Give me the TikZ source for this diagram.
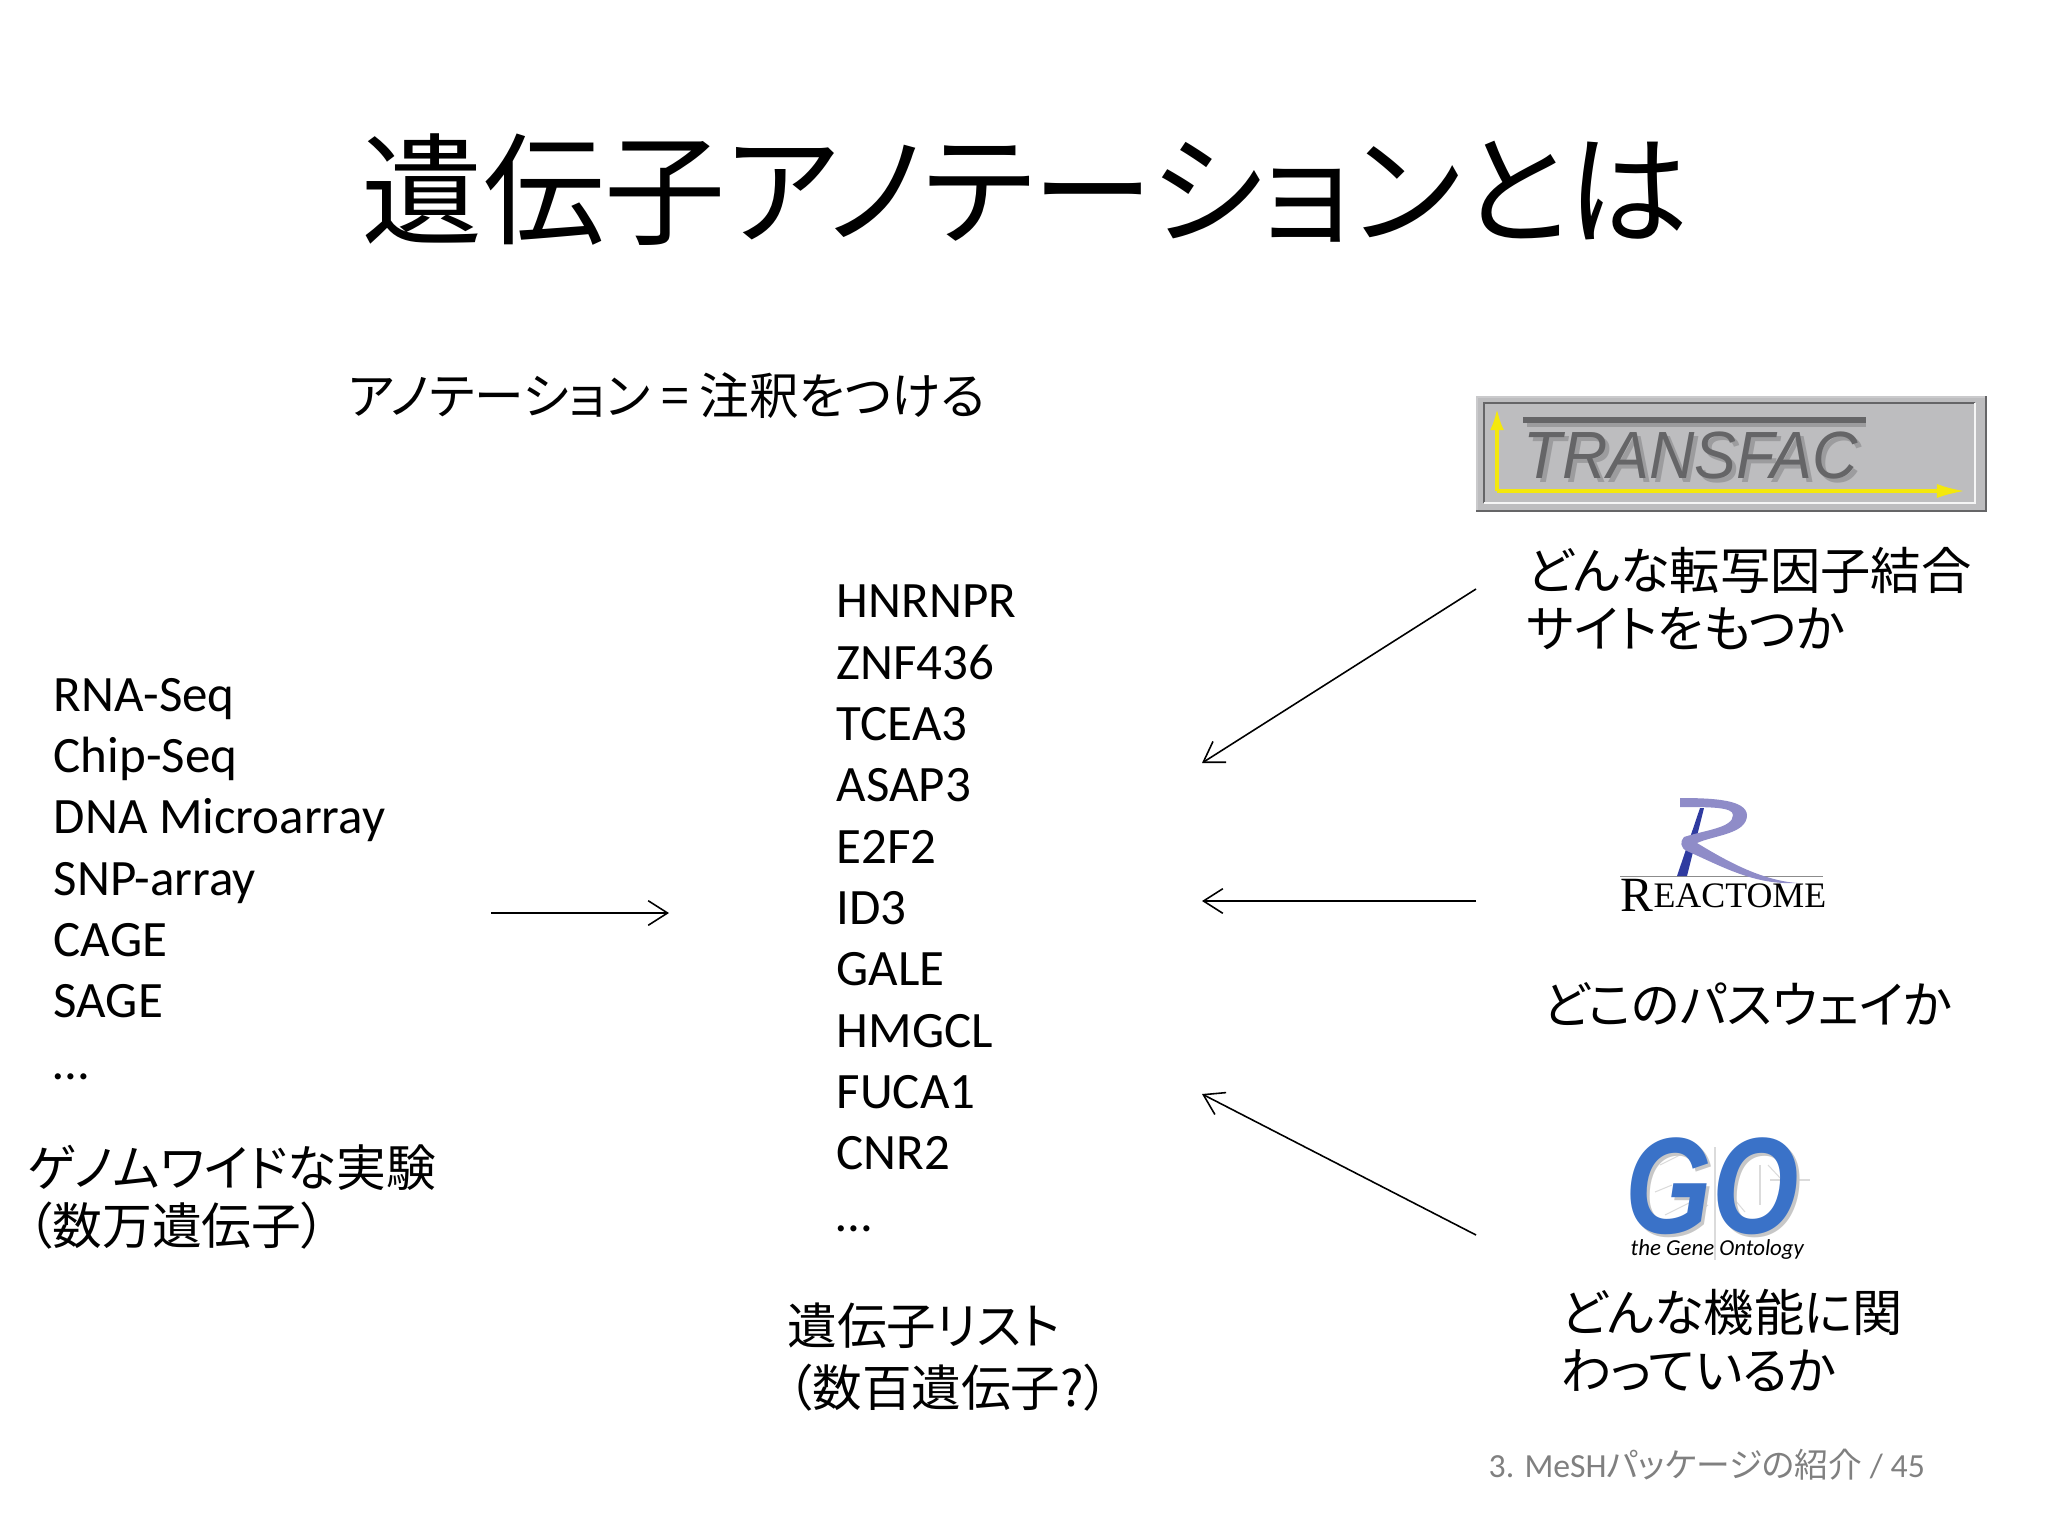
\documentclass[tikz,border=0pt]{standalone}
\usepackage{fontspec}
\usepackage{graphicx}
\setmainfont{Carlito}
\newfontfamily\jp[RawFeature=+palt]{Noto Sans CJK JP}
\newfontfamily\lsans{Liberation Sans}
\newfontfamily\lserif{Liberation Serif}
\usetikzlibrary{arrows.meta}
\definecolor{gomain}{HTML}{3A72C8}
\definecolor{rlight}{HTML}{8F8CC8}
\definecolor{rdark}{HTML}{2F3BA0}
\definecolor{tfbg}{HTML}{BDBDBF}
\definecolor{tfdark}{HTML}{656567}
\definecolor{tfshade}{HTML}{9C9C9E}
\tikzset{
  label/.style={anchor=base west,inner sep=0pt,align=left,font=\fontsize{14.5}{17.44}\selectfont},
  jplabel/.style={anchor=base west,inner sep=0pt,align=left,font=\jp\fontsize{14.3}{16.3}\selectfont},
  link/.style={line width=0.45pt,-{Straight Barb[length=5.5pt,width=7pt,line width=0.45pt]}},
}
\begin{document}
\begin{tikzpicture}[x=0.01cm,y=-0.01cm]
\useasboundingbox (0,0) rectangle (2048,1536);
\node[inner sep=0pt,anchor=base west,font=\jp\fontsize{34.5}{37}\selectfont] (title) at (361,235) {遺伝子アノテーションとは};
\node[jplabel,font=\jp\fontsize{14.15}{16.3}\selectfont] (anno) at (348,414) {アノテーション = 注釈をつける};

\node[label] (exps) at (53,1079) {RNA-Seq\\Chip-Seq\\DNA Microarray\\SNP-array\\CAGE\\SAGE\\…};
\node[jplabel,font=\jp\fontsize{14.15}{16.3}\selectfont] (expj) at (27,1244) {ゲノムワイドな実験\\（数万遺伝子）};
\node[label] (genes) at (836,1231) {HNRNPR\\ZNF436\\TCEA3\\ASAP3\\E2F2\\ID3\\GALE\\HMGCL\\FUCA1\\CNR2\\…};
\node[jplabel,font=\jp\fontsize{14.1}{17.44}\selectfont] (genej) at (787,1406) {遺伝子リスト\\（数百遺伝子?）};
\node[jplabel] (tfj) at (1526,647) {どんな転写因子結合\\サイトをもつか};
\node[jplabel] (rj) at (1542,1023) {どこのパスウェイか};
\node[jplabel] (goj) at (1560,1389) {どんな機能に関\\わっているか};
\node[anchor=base west,inner sep=0pt,text=black!50,font=\fontsize{9.6}{12}\selectfont] (foot) at (1488,1477) {3. MeSH{\jp パッケージの紹介} / 45};

% TRANSFAC logo
\fill[tfdark] (1476,396) rectangle (1987,512);
\fill[tfbg!80!white] (1476,396) rectangle (1985,510);
\fill[tfbg] (1478,398) rectangle (1985,510);
\draw[tfdark,line width=0.5pt] (1484,503) -- (1484,403) -- (1975,403);
\draw[white!85!tfbg,line width=0.5pt] (1975,403) -- (1975,503) -- (1484,503);
\fill[tfshade] (1527,423) rectangle (1866,427);
\fill[tfdark] (1523,417) rectangle (1866,423);
\node[inner sep=0pt,anchor=base west,text=tfshade] (tfs) at (1527,482) {\scalebox{.94}[1]{\lsans\itshape\fontsize{19}{24}\selectfont TRANSFAC}};
\node[inner sep=0pt,anchor=base west,text=tfdark] (tf) at (1523,478) {\scalebox{.94}[1]{\lsans\itshape\fontsize{19}{24}\selectfont TRANSFAC}};
\draw[yellow!95!black,line width=0.9pt,-{Latex[length=6pt,width=4pt]}] (1497,491) -- (1497,409);
\draw[yellow!95!black,line width=0.9pt,-{Latex[length=8pt,width=4pt]}] (1497,491) -- (1965,491);

% Reactome logo
\draw[black!45,line width=0.25pt] (1620,876) -- (1823,876);
\fill[rdark] (1700,808) -- (1704,808) -- (1687,876) -- (1677,876) -- cycle;
\fill[rlight] (1680,798) .. controls (1715,798) and (1746,800) .. (1747,815)
  .. controls (1747,834) and (1715,835) .. (1697,843)
  .. controls (1725,860) and (1760,880) .. (1797,883)
  .. controls (1755,885) and (1725,868) .. (1687,851)
  .. controls (1680,848) and (1680,841) .. (1684,837)
  .. controls (1705,830) and (1733,828) .. (1733,815)
  .. controls (1733,807) and (1710,807) .. (1680,807) -- cycle;
\node[inner sep=0pt,anchor=base west] (react) at (1620,907) {\lserif\raisebox{-1.4pt}{\fontsize{14}{15}\selectfont R}\fontsize{10.2}{12}\selectfont EACTOME};

% GO logo
\begin{scope}[black!14,line width=0.3pt]
\draw (1660,1165) -- (1690,1150);
\draw (1715,1147) -- (1715,1260);
\draw (1760,1165) -- (1760,1205);
\draw (1768,1165) -- (1782,1180);
\draw (1655,1192) -- (1672,1185);
\draw (1735,1200) -- (1745,1212);
\draw (1665,1215) -- (1695,1200);
\draw (1770,1180) -- (1810,1180);
\draw (1690,1217) -- (1708,1205);
\end{scope}
\node[inner sep=0pt,anchor=base west,text=black!22] (gos) at (1628,1236) {\scalebox{.81}[1]{\lsans\bfseries\itshape\fontsize{39}{41}\selectfont GO}};
\node[inner sep=0pt,anchor=base west,text=gomain] (go) at (1625,1233) {\scalebox{.81}[1]{\lsans\bfseries\itshape\fontsize{39}{41}\selectfont GO}};
\node[inner sep=0pt,anchor=base west] (gotext) at (1630,1255) {\itshape\fontsize{6.5}{8}\selectfont the Gene Ontology};

% connectors
\coordinate (a1) at (491,913); \coordinate (a2) at (669,913);
\coordinate (b1) at (1476,589); \coordinate (b2) at (1202,763);
\coordinate (c1) at (1476,901); \coordinate (c2) at (1202,901);
\coordinate (d1) at (1476,1235); \coordinate (d2) at (1202,1094);
\draw[link] (a1) -- (a2);
\draw[link] (b1) -- (b2);
\draw[link] (c1) -- (c2);
\draw[link] (d1) -- (d2);
\end{tikzpicture}
\end{document}
